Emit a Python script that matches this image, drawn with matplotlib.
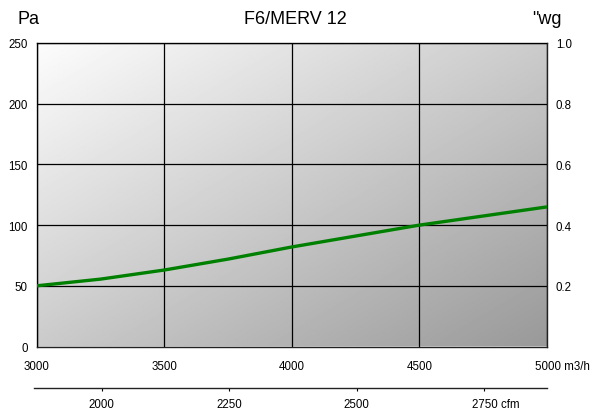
import numpy as np
import matplotlib
matplotlib.use("Agg")
import matplotlib.pyplot as plt
import matplotlib.transforms as mtransforms

# data
airflow_m3h = [3000, 3250, 3500, 3750, 4000, 4250, 4500, 4750, 5000]
pressure_pa = [50, 55.5, 63, 72, 82, 91, 100, 107.5, 115]

x_ticks = [3000, 3500, 4000, 4500, 5000]
x_labels = ["3000", "3500", "4000", "4500", "5000 m3/h"]
pa_ticks = [0, 50, 100, 150, 200, 250]
wg_ticks = [0.2, 0.4, 0.6, 0.8, 1.0]
cfm_ticks = [2000, 2250, 2500, 2750]
cfm_labels = ["2000", "2250", "2500", "2750 cfm"]
cfm_range = [1873, 2873]

plt.rcParams["font.family"] = ["Liberation Sans", "DejaVu Sans"]
fs = 8.3

fig = plt.figure(figsize=(5.94, 4.14), dpi=100)
left, right = 36.7 / 594, 547 / 594
bottom, top = 1 - 347.5 / 414, 1 - 44 / 414
ax = fig.add_axes([left, bottom, right - left, top - bottom])

# diagonal grey gradient background
u = np.linspace(0, 1, 300)
v = np.linspace(0, 1, 300)
U, V = np.meshgrid(u, v)
shade = 0.99 - 0.39 * (U + V) / 2
ax.imshow(shade, cmap="gray", vmin=0, vmax=1, extent=[0, 1, 0, 1],
          transform=ax.transAxes, aspect="auto", origin="upper", zorder=0)

ax.plot(airflow_m3h, pressure_pa, color="#008000", lw=2.4, zorder=3,
        solid_capstyle="butt")

ax.set_xlim(3000, 5000)
ax.set_ylim(0, 250)
ax.set_xticks(x_ticks)
ax.set_xticklabels(x_labels)
ax.set_yticks(pa_ticks)
ax.grid(True, color="black", lw=0.9, zorder=1)
ax.set_axisbelow(False)
for s in ax.spines.values():
    s.set_color("#222222")
    s.set_linewidth(1.0)
ax.tick_params(axis="both", length=0, labelsize=fs)
ax.tick_params(axis="y", pad=6.3)
ax.tick_params(axis="x", pad=10)
last = ax.get_xticklabels()[-1]
last.set_horizontalalignment("left")
last.set_transform(last.get_transform() + mtransforms.ScaledTranslation(-12 / 100, 0, fig.dpi_scale_trans))

ax_r = ax.twinx()
ax_r.set_ylim(0, 1.0)
ax_r.set_yticks(wg_ticks)
ax_r.set_yticklabels([f"{t:.1f}" for t in wg_ticks])
ax_r.tick_params(axis="y", length=0, labelsize=fs, pad=6.3)
for s in ax_r.spines.values():
    s.set_visible(False)

# secondary cfm scale
ax_c = fig.add_axes([34 / 594, 1 - 389 / 414, right - 34 / 594, 0.0001])
ax_c.set_xlim(cfm_range[0] - (36.7 - 34) / 127.5 * 250, cfm_range[1])
ax_c.set_yticks([])
for name in ["top", "left", "right"]:
    ax_c.spines[name].set_visible(False)
ax_c.spines["bottom"].set_color("#222222")
ax_c.spines["bottom"].set_linewidth(1.0)
ax_c.patch.set_visible(False)
ax_c.set_xticks(cfm_ticks)
ax_c.set_xticklabels(cfm_labels)
ax_c.tick_params(axis="x", length=2.5, width=0.8, labelsize=fs, pad=5)
lastc = ax_c.get_xticklabels()[-1]
lastc.set_horizontalalignment("left")
lastc.set_transform(lastc.get_transform() + mtransforms.ScaledTranslation(-12 / 100, 0, fig.dpi_scale_trans))

fig.text(295 / 594, 1 - 19.5 / 414, "F6/MERV 12", ha="center", va="center",
         fontsize=13)
fig.text(17.5 / 594, 1 - 20 / 414, "Pa", ha="left", va="center",
         fontsize=13)
fig.text(562 / 594, 1 - 20 / 414, "\"wg", ha="right", va="center",
         fontsize=13)

fig.savefig("out.png", dpi=100)
